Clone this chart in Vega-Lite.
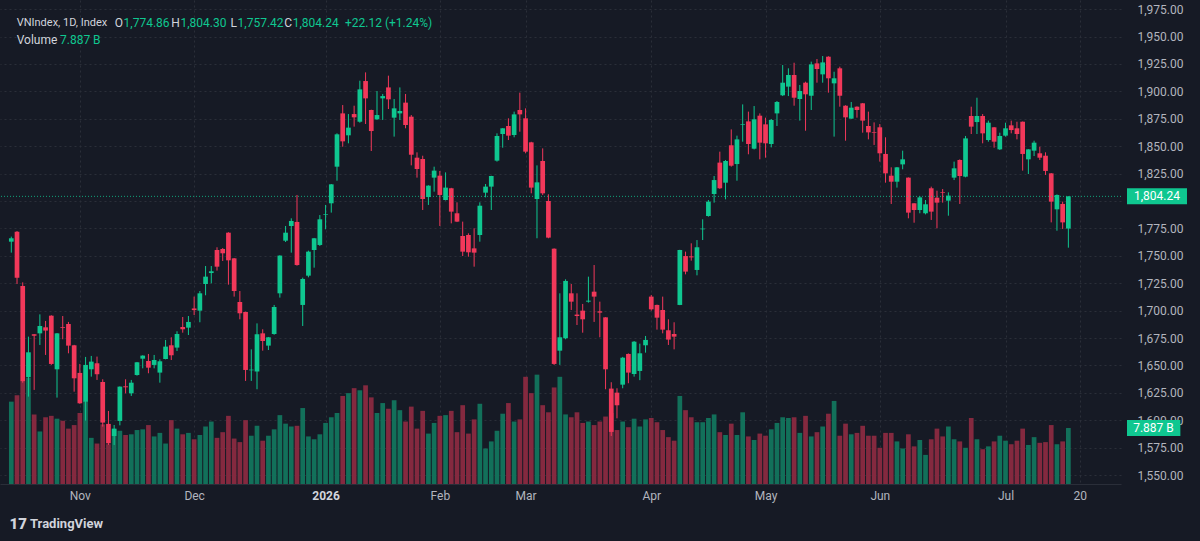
{
"$schema": "https://vega.github.io/schema/vega-lite/v6.json",
"width": 1121, "height": 484,
"autosize": {"type": "none"},
"padding": {"left": 0, "top": 0, "right": 79, "bottom": 57},
"background": "#161a25",
"config": {"view": {"stroke": null}, "font": "Roboto", "axis": {"labelFont": "Roboto"}},
"datasets": {"ohlc": [
{"i":0,"o":1762.9,"h":1767.5,"l":1752.9,"c":1766.0,"v":11.6},
{"i":1,"o":1772.0,"h":1772.6,"l":1724.3,"c":1730.1,"v":12.5},
{"i":2,"o":1722.5,"h":1725.8,"l":1634.3,"c":1635.3,"v":14.4},
{"i":3,"o":1639.5,"h":1676.3,"l":1621.6,"c":1662.0,"v":15.0},
{"i":4,"o":1678.4,"h":1678.6,"l":1627.7,"c":1677.2,"v":9.8},
{"i":5,"o":1679.3,"h":1696.6,"l":1668.7,"c":1686.0,"v":7.4},
{"i":6,"o":1684.8,"h":1690.6,"l":1659.6,"c":1681.8,"v":9.4},
{"i":7,"o":1695.4,"h":1695.8,"l":1650.5,"c":1651.4,"v":9.6},
{"i":8,"o":1646.5,"h":1679.6,"l":1620.7,"c":1679.3,"v":9.2},
{"i":9,"o":1685.1,"h":1695.1,"l":1673.9,"c":1684.5,"v":8.9},
{"i":10,"o":1687.8,"h":1689.7,"l":1661.1,"c":1668.1,"v":7.8},
{"i":11,"o":1668.4,"h":1668.8,"l":1626.1,"c":1638.3,"v":8.3},
{"i":12,"o":1643.2,"h":1651.4,"l":1615.0,"c":1615.5,"v":10.0},
{"i":13,"o":1617.0,"h":1657.8,"l":1599.7,"c":1650.5,"v":11.7},
{"i":14,"o":1646.5,"h":1658.7,"l":1639.8,"c":1653.5,"v":6.5},
{"i":15,"o":1652.0,"h":1658.1,"l":1636.8,"c":1642.0,"v":5.7},
{"i":16,"o":1634.9,"h":1637.4,"l":1594.2,"c":1597.9,"v":8.4},
{"i":17,"o":1596.7,"h":1608.5,"l":1577.5,"c":1579.0,"v":5.6},
{"i":18,"o":1585.7,"h":1595.7,"l":1577.5,"c":1592.4,"v":7.7},
{"i":19,"o":1599.4,"h":1630.9,"l":1595.4,"c":1630.7,"v":7.5},
{"i":20,"o":1631.0,"h":1637.4,"l":1624.6,"c":1630.1,"v":6.9},
{"i":21,"o":1624.6,"h":1636.8,"l":1622.2,"c":1634.3,"v":7.0},
{"i":22,"o":1641.3,"h":1653.2,"l":1640.7,"c":1652.9,"v":7.6},
{"i":23,"o":1656.2,"h":1659.3,"l":1647.4,"c":1659.0,"v":7.7},
{"i":24,"o":1654.1,"h":1660.5,"l":1642.9,"c":1648.0,"v":8.3},
{"i":25,"o":1650.5,"h":1659.6,"l":1647.4,"c":1655.0,"v":6.7},
{"i":26,"o":1643.5,"h":1655.6,"l":1634.3,"c":1653.8,"v":7.2},
{"i":27,"o":1655.9,"h":1673.3,"l":1655.6,"c":1667.2,"v":5.7},
{"i":28,"o":1668.4,"h":1675.7,"l":1655.0,"c":1659.3,"v":9.0},
{"i":29,"o":1666.3,"h":1681.2,"l":1663.2,"c":1678.7,"v":7.8},
{"i":30,"o":1685.1,"h":1694.2,"l":1679.9,"c":1683.0,"v":7.0},
{"i":31,"o":1684.5,"h":1695.1,"l":1677.8,"c":1689.7,"v":7.2},
{"i":32,"o":1702.0,"h":1712.8,"l":1696.0,"c":1700.5,"v":6.3},
{"i":33,"o":1700.0,"h":1717.9,"l":1689.4,"c":1715.8,"v":6.9},
{"i":34,"o":1724.3,"h":1740.7,"l":1714.0,"c":1731.0,"v":8.1},
{"i":35,"o":1734.3,"h":1740.7,"l":1724.9,"c":1735.9,"v":8.8},
{"i":36,"o":1755.3,"h":1757.8,"l":1736.5,"c":1740.1,"v":6.5},
{"i":37,"o":1756.2,"h":1757.1,"l":1745.3,"c":1752.3,"v":7.3},
{"i":38,"o":1771.1,"h":1771.5,"l":1723.7,"c":1745.9,"v":9.6},
{"i":39,"o":1747.7,"h":1748.0,"l":1712.8,"c":1717.9,"v":6.4},
{"i":40,"o":1707.9,"h":1717.9,"l":1692.1,"c":1697.6,"v":5.9},
{"i":41,"o":1698.8,"h":1699.0,"l":1635.9,"c":1645.9,"v":9.0},
{"i":42,"o":1645.6,"h":1664.7,"l":1635.9,"c":1646.2,"v":6.8},
{"i":43,"o":1644.4,"h":1688.4,"l":1628.3,"c":1678.4,"v":8.2},
{"i":44,"o":1679.3,"h":1683.0,"l":1663.5,"c":1672.3,"v":6.1},
{"i":45,"o":1668.1,"h":1676.0,"l":1664.1,"c":1675.7,"v":6.8},
{"i":46,"o":1678.7,"h":1705.2,"l":1678.0,"c":1703.3,"v":7.7},
{"i":47,"o":1715.8,"h":1750.5,"l":1711.9,"c":1750.2,"v":9.7},
{"i":48,"o":1763.8,"h":1777.2,"l":1762.6,"c":1771.1,"v":8.5},
{"i":49,"o":1777.2,"h":1784.2,"l":1752.9,"c":1781.8,"v":8.1},
{"i":50,"o":1780.9,"h":1805.5,"l":1741.0,"c":1741.6,"v":8.2},
{"i":51,"o":1705.2,"h":1730.1,"l":1686.0,"c":1728.9,"v":10.7},
{"i":52,"o":1731.9,"h":1754.7,"l":1730.4,"c":1753.8,"v":6.7},
{"i":53,"o":1755.3,"h":1766.3,"l":1739.2,"c":1766.0,"v":6.3},
{"i":54,"o":1759.9,"h":1787.2,"l":1759.0,"c":1783.3,"v":7.0},
{"i":55,"o":1787.5,"h":1796.4,"l":1774.2,"c":1788.1,"v":8.6},
{"i":56,"o":1797.9,"h":1815.5,"l":1789.4,"c":1815.2,"v":9.4},
{"i":57,"o":1831.3,"h":1861.7,"l":1818.5,"c":1860.8,"v":10.0},
{"i":58,"o":1879.9,"h":1887.5,"l":1849.5,"c":1854.4,"v":12.4},
{"i":59,"o":1859.9,"h":1879.3,"l":1852.6,"c":1866.9,"v":12.8},
{"i":60,"o":1879.3,"h":1886.9,"l":1867.8,"c":1876.3,"v":13.5},
{"i":61,"o":1872.3,"h":1909.7,"l":1871.4,"c":1901.8,"v":13.2},
{"i":62,"o":1909.4,"h":1917.3,"l":1870.2,"c":1893.6,"v":13.9},
{"i":63,"o":1883.0,"h":1883.3,"l":1845.6,"c":1863.8,"v":12.2},
{"i":64,"o":1874.5,"h":1900.3,"l":1873.9,"c":1878.4,"v":10.0},
{"i":65,"o":1893.6,"h":1897.6,"l":1873.9,"c":1895.7,"v":11.4},
{"i":66,"o":1903.6,"h":1914.3,"l":1883.9,"c":1892.7,"v":10.6},
{"i":67,"o":1876.0,"h":1893.0,"l":1858.7,"c":1884.5,"v":11.8},
{"i":68,"o":1879.9,"h":1903.6,"l":1873.9,"c":1882.1,"v":10.4},
{"i":69,"o":1889.7,"h":1897.6,"l":1866.3,"c":1869.3,"v":8.8},
{"i":70,"o":1876.9,"h":1878.4,"l":1832.5,"c":1842.2,"v":10.9},
{"i":71,"o":1839.5,"h":1844.4,"l":1821.3,"c":1829.2,"v":7.8},
{"i":72,"o":1838.3,"h":1841.3,"l":1791.8,"c":1801.8,"v":10.3},
{"i":73,"o":1803.6,"h":1814.3,"l":1796.4,"c":1814.0,"v":7.1},
{"i":74,"o":1821.3,"h":1831.3,"l":1808.5,"c":1827.7,"v":8.6},
{"i":75,"o":1823.1,"h":1827.4,"l":1777.2,"c":1805.5,"v":9.6},
{"i":76,"o":1800.9,"h":1826.1,"l":1800.5,"c":1812.2,"v":9.7},
{"i":77,"o":1811.6,"h":1812.0,"l":1779.6,"c":1790.3,"v":10.3},
{"i":78,"o":1788.8,"h":1798.8,"l":1780.8,"c":1781.2,"v":7.3},
{"i":79,"o":1768.1,"h":1781.2,"l":1749.8,"c":1753.8,"v":11.1},
{"i":80,"o":1769.0,"h":1770.5,"l":1749.2,"c":1753.2,"v":7.1},
{"i":81,"o":1756.8,"h":1775.1,"l":1740.1,"c":1752.9,"v":9.1},
{"i":82,"o":1769.0,"h":1798.8,"l":1762.9,"c":1795.7,"v":11.3},
{"i":83,"o":1807.6,"h":1815.5,"l":1803.3,"c":1813.1,"v":5.0},
{"i":84,"o":1813.1,"h":1823.0,"l":1791.8,"c":1822.8,"v":6.0},
{"i":85,"o":1836.8,"h":1861.7,"l":1835.9,"c":1859.3,"v":7.5},
{"i":86,"o":1861.1,"h":1866.5,"l":1848.6,"c":1866.3,"v":9.9},
{"i":87,"o":1868.4,"h":1875.4,"l":1855.6,"c":1859.6,"v":11.4},
{"i":88,"o":1860.2,"h":1881.5,"l":1858.1,"c":1879.0,"v":8.8},
{"i":89,"o":1883.0,"h":1898.8,"l":1863.2,"c":1879.0,"v":9.1},
{"i":90,"o":1875.4,"h":1884.5,"l":1843.5,"c":1845.0,"v":15.1},
{"i":91,"o":1853.5,"h":1854.0,"l":1807.0,"c":1812.2,"v":12.8},
{"i":92,"o":1801.8,"h":1832.5,"l":1766.0,"c":1817.0,"v":15.4},
{"i":93,"o":1836.5,"h":1848.0,"l":1805.5,"c":1807.0,"v":11.1},
{"i":94,"o":1800.0,"h":1806.1,"l":1766.0,"c":1766.6,"v":10.1},
{"i":95,"o":1756.5,"h":1756.8,"l":1650.5,"c":1651.4,"v":13.6},
{"i":96,"o":1663.5,"h":1715.8,"l":1650.5,"c":1675.7,"v":15.1},
{"i":97,"o":1674.8,"h":1728.6,"l":1673.9,"c":1727.1,"v":9.8},
{"i":98,"o":1715.8,"h":1724.3,"l":1700.6,"c":1708.2,"v":9.4},
{"i":99,"o":1696.4,"h":1715.8,"l":1686.9,"c":1695.1,"v":10.1},
{"i":100,"o":1700.0,"h":1706.1,"l":1679.9,"c":1692.1,"v":8.6},
{"i":101,"o":1708.2,"h":1731.0,"l":1707.3,"c":1709.1,"v":8.8},
{"i":102,"o":1717.3,"h":1741.6,"l":1689.7,"c":1712.8,"v":8.3},
{"i":103,"o":1699.4,"h":1708.2,"l":1675.7,"c":1698.2,"v":8.8},
{"i":104,"o":1693.9,"h":1694.0,"l":1628.3,"c":1646.5,"v":9.5},
{"i":105,"o":1628.9,"h":1634.7,"l":1585.7,"c":1589.4,"v":10.0},
{"i":106,"o":1625.2,"h":1629.2,"l":1601.8,"c":1613.7,"v":7.6},
{"i":107,"o":1632.5,"h":1657.8,"l":1629.2,"c":1657.1,"v":8.8},
{"i":108,"o":1660.5,"h":1661.0,"l":1633.8,"c":1643.5,"v":8.0},
{"i":109,"o":1642.2,"h":1672.3,"l":1639.8,"c":1671.7,"v":9.2},
{"i":110,"o":1645.0,"h":1669.9,"l":1636.6,"c":1661.1,"v":8.1},
{"i":111,"o":1668.4,"h":1676.9,"l":1661.7,"c":1673.3,"v":9.1},
{"i":112,"o":1712.8,"h":1714.3,"l":1700.0,"c":1701.2,"v":9.3},
{"i":113,"o":1705.2,"h":1705.5,"l":1682.7,"c":1693.6,"v":8.7},
{"i":114,"o":1700.6,"h":1712.8,"l":1679.3,"c":1682.7,"v":7.6},
{"i":115,"o":1682.1,"h":1692.1,"l":1668.7,"c":1673.6,"v":6.6},
{"i":116,"o":1678.7,"h":1689.4,"l":1664.7,"c":1676.3,"v":6.1},
{"i":117,"o":1705.2,"h":1755.5,"l":1705.0,"c":1755.3,"v":12.4},
{"i":118,"o":1749.8,"h":1753.8,"l":1733.1,"c":1735.6,"v":10.4},
{"i":119,"o":1749.5,"h":1761.4,"l":1745.6,"c":1748.6,"v":9.4},
{"i":120,"o":1737.1,"h":1764.4,"l":1732.2,"c":1757.8,"v":8.7},
{"i":121,"o":1774.2,"h":1783.3,"l":1764.4,"c":1774.8,"v":8.7},
{"i":122,"o":1786.3,"h":1800.9,"l":1785.7,"c":1799.4,"v":9.3},
{"i":123,"o":1806.4,"h":1822.8,"l":1798.5,"c":1819.1,"v":9.8},
{"i":124,"o":1835.0,"h":1845.0,"l":1811.0,"c":1811.6,"v":7.3},
{"i":125,"o":1816.7,"h":1837.4,"l":1801.5,"c":1836.5,"v":6.9},
{"i":126,"o":1850.8,"h":1865.3,"l":1831.3,"c":1832.2,"v":8.5},
{"i":127,"o":1833.7,"h":1859.6,"l":1818.5,"c":1856.2,"v":6.9},
{"i":128,"o":1869.6,"h":1888.1,"l":1854.1,"c":1870.2,"v":10.1},
{"i":129,"o":1872.6,"h":1881.5,"l":1842.6,"c":1852.0,"v":6.7},
{"i":130,"o":1847.7,"h":1886.6,"l":1847.0,"c":1874.5,"v":6.2},
{"i":131,"o":1877.8,"h":1879.9,"l":1838.0,"c":1853.2,"v":7.1},
{"i":132,"o":1869.9,"h":1876.0,"l":1839.5,"c":1852.6,"v":6.8},
{"i":133,"o":1852.0,"h":1874.8,"l":1848.9,"c":1873.9,"v":7.7},
{"i":134,"o":1879.9,"h":1891.2,"l":1868.4,"c":1890.3,"v":8.6},
{"i":135,"o":1896.4,"h":1924.0,"l":1895.7,"c":1907.9,"v":9.4},
{"i":136,"o":1904.3,"h":1921.0,"l":1895.7,"c":1914.9,"v":9.3},
{"i":137,"o":1914.9,"h":1926.1,"l":1886.9,"c":1894.2,"v":9.4},
{"i":138,"o":1893.0,"h":1905.8,"l":1873.3,"c":1900.3,"v":7.2},
{"i":139,"o":1907.9,"h":1908.8,"l":1864.1,"c":1897.3,"v":9.6},
{"i":140,"o":1896.0,"h":1927.1,"l":1883.0,"c":1924.6,"v":6.7},
{"i":141,"o":1925.5,"h":1929.5,"l":1907.9,"c":1920.4,"v":7.3},
{"i":142,"o":1915.5,"h":1932.2,"l":1907.9,"c":1926.4,"v":8.1},
{"i":143,"o":1931.6,"h":1932.0,"l":1898.8,"c":1911.9,"v":9.9},
{"i":144,"o":1907.3,"h":1917.9,"l":1858.7,"c":1911.9,"v":11.7},
{"i":145,"o":1921.0,"h":1922.5,"l":1886.0,"c":1896.0,"v":6.8},
{"i":146,"o":1886.9,"h":1887.3,"l":1855.0,"c":1876.3,"v":8.5},
{"i":147,"o":1875.1,"h":1890.3,"l":1875.0,"c":1885.1,"v":7.0},
{"i":148,"o":1886.0,"h":1886.3,"l":1876.0,"c":1883.0,"v":7.2},
{"i":149,"o":1889.1,"h":1889.4,"l":1862.3,"c":1873.3,"v":8.2},
{"i":150,"o":1868.4,"h":1881.5,"l":1856.2,"c":1862.6,"v":6.8},
{"i":151,"o":1862.9,"h":1871.7,"l":1851.1,"c":1862.3,"v":6.8},
{"i":152,"o":1867.2,"h":1870.2,"l":1835.9,"c":1843.5,"v":5.1},
{"i":153,"o":1842.9,"h":1858.1,"l":1816.7,"c":1825.2,"v":7.2},
{"i":154,"o":1823.1,"h":1830.7,"l":1797.3,"c":1817.6,"v":7.2},
{"i":155,"o":1817.6,"h":1831.0,"l":1812.2,"c":1830.7,"v":6.0},
{"i":156,"o":1833.4,"h":1845.9,"l":1828.9,"c":1838.0,"v":5.0},
{"i":157,"o":1821.3,"h":1821.5,"l":1784.2,"c":1789.4,"v":7.0},
{"i":158,"o":1797.9,"h":1798.0,"l":1780.2,"c":1791.8,"v":5.3},
{"i":159,"o":1791.8,"h":1804.6,"l":1788.8,"c":1803.3,"v":6.2},
{"i":160,"o":1788.8,"h":1800.9,"l":1787.8,"c":1797.0,"v":4.1},
{"i":161,"o":1811.6,"h":1813.1,"l":1782.7,"c":1790.3,"v":6.3},
{"i":162,"o":1803.0,"h":1809.4,"l":1775.1,"c":1798.5,"v":7.8},
{"i":163,"o":1807.9,"h":1810.9,"l":1798.5,"c":1807.3,"v":6.7},
{"i":164,"o":1800.3,"h":1807.9,"l":1786.6,"c":1804.9,"v":8.1},
{"i":165,"o":1821.3,"h":1835.9,"l":1819.1,"c":1829.8,"v":6.3},
{"i":166,"o":1837.4,"h":1838.0,"l":1797.3,"c":1822.8,"v":6.0},
{"i":167,"o":1822.2,"h":1859.3,"l":1821.6,"c":1857.1,"v":5.1},
{"i":168,"o":1877.5,"h":1886.0,"l":1861.1,"c":1867.8,"v":9.3},
{"i":169,"o":1872.0,"h":1894.2,"l":1861.1,"c":1877.5,"v":6.3},
{"i":170,"o":1877.5,"h":1879.3,"l":1852.6,"c":1861.7,"v":4.9},
{"i":171,"o":1855.6,"h":1873.3,"l":1854.1,"c":1871.4,"v":5.3},
{"i":172,"o":1867.2,"h":1867.5,"l":1848.6,"c":1854.1,"v":6.0},
{"i":173,"o":1847.1,"h":1862.3,"l":1846.5,"c":1859.3,"v":6.8},
{"i":174,"o":1859.6,"h":1871.4,"l":1858.7,"c":1866.3,"v":6.1},
{"i":175,"o":1869.0,"h":1873.3,"l":1861.7,"c":1864.7,"v":5.6},
{"i":176,"o":1866.3,"h":1872.3,"l":1856.2,"c":1861.1,"v":6.1},
{"i":177,"o":1872.3,"h":1872.5,"l":1827.7,"c":1842.9,"v":7.8},
{"i":178,"o":1838.0,"h":1847.3,"l":1824.6,"c":1847.1,"v":5.5},
{"i":179,"o":1845.9,"h":1855.0,"l":1841.0,"c":1853.2,"v":6.6},
{"i":180,"o":1843.5,"h":1849.5,"l":1837.4,"c":1839.5,"v":5.8},
{"i":181,"o":1841.3,"h":1844.4,"l":1823.7,"c":1827.4,"v":5.9},
{"i":182,"o":1825.2,"h":1825.5,"l":1780.5,"c":1799.4,"v":8.3},
{"i":183,"o":1792.4,"h":1806.0,"l":1772.9,"c":1805.5,"v":5.6},
{"i":184,"o":1797.3,"h":1799.4,"l":1774.5,"c":1780.5,"v":6.0},
{"i":185,"o":1774.86,"h":1804.30,"l":1757.42,"c":1804.24,"v":7.887}
]},
"layer": [
 {"layer": [
  {"data": {"name": "ohlc"},
   "mark": {"type": "bar", "width": 4.7},
   "encoding": {
    "x": {"field": "i", "type": "quantitative", "scale": {"domain": [-1.978, 194.21], "nice": false, "zero": false, "padding": 0},
      "axis": {"values": [12, 32, 55, 75, 90, 112, 132, 152, 174, 187], "title": null,
       "labelExpr": "datum.value == 12 ? 'Nov' : datum.value == 32 ? 'Dec' : datum.value == 55 ? '2026' : datum.value == 75 ? 'Feb' : datum.value == 90 ? 'Mar' : datum.value == 112 ? 'Apr' : datum.value == 132 ? 'May' : datum.value == 152 ? 'Jun' : datum.value == 174 ? 'Jul' : '20'",
       "labelFontWeight": {"condition": {"test": "datum.value == 55", "value": "bold"}, "value": "normal"},
       "labelColor": {"condition": {"test": "datum.value == 55", "value": "#d1d4dc"}, "value": "#b2b5be"},
       "labelFontSize": 12, "tickSize": 0, "labelPadding": 6, "grid": true, "gridColor": "#2a2e39", "gridDash": [2, 3],
       "domainColor": "#2a2e39", "labelFlush": false, "labelOverlap": false}},
    "y": {"field": "v", "type": "quantitative", "scale": {"domain": [0, 68.17], "nice": false, "padding": 0}, "axis": null},
    "color": {"condition": {"test": "datum.c >= datum.o", "value": "#12705a"}, "value": "#84293f"}
   }}
 ]},
 {"layer": [
  {"data": {"name": "ohlc"},
   "mark": {"type": "rule", "strokeWidth": 1},
   "encoding": {
    "x": {"field": "i", "type": "quantitative", "scale": {"domain": [-1.978, 194.21], "nice": false, "zero": false, "padding": 0}},
    "y": {"field": "l", "type": "quantitative", "scale": {"domain": [1541.9, 1983.31], "nice": false, "zero": false, "padding": 0},
      "axis": {"orient": "right", "title": null, "values": [1550, 1575, 1600, 1625, 1650, 1675, 1700, 1725, 1750, 1775, 1800, 1825, 1850, 1875, 1900, 1925, 1950, 1975],
       "labelExpr": "datum.value == 1800 ? '' : format(datum.value, ',.2f')", "tickSize": 0, "labelPadding": 16, "labelColor": "#b2b5be", "labelFontSize": 12, "domain": false,
       "grid": true, "gridColor": "#2a2e39", "gridDash": [2, 3], "labelFlush": false, "labelOverlap": false}},
    "y2": {"field": "h"},
    "color": {"condition": {"test": "datum.c >= datum.o", "value": "#0fc790"}, "value": "#f2385a"}
   }},
  {"data": {"name": "ohlc"},
   "mark": {"type": "bar", "width": 4.7},
   "encoding": {
    "x": {"field": "i", "type": "quantitative", "scale": {"domain": [-1.978, 194.21], "nice": false, "zero": false, "padding": 0}},
    "y": {"field": "o", "type": "quantitative", "scale": {"domain": [1541.9, 1983.31], "nice": false, "zero": false, "padding": 0},
      "axis": {"orient": "right", "title": null, "values": [1550, 1575, 1600, 1625, 1650, 1675, 1700, 1725, 1750, 1775, 1800, 1825, 1850, 1875, 1900, 1925, 1950, 1975],
       "labelExpr": "datum.value == 1800 ? '' : format(datum.value, ',.2f')", "tickSize": 0, "labelPadding": 16, "labelColor": "#b2b5be", "labelFontSize": 12, "domain": false,
       "grid": true, "gridColor": "#2a2e39", "gridDash": [2, 3], "labelFlush": false, "labelOverlap": false}},
    "y2": {"field": "c"},
    "color": {"condition": {"test": "datum.c >= datum.o", "value": "#0fc790"}, "value": "#f2385a"}
   }}
 ]},
 {"layer": [
  {"data": {"values": [{}]},
   "mark": {"type": "rule", "color": "#0fc790", "strokeDash": [1, 2], "strokeWidth": 1, "opacity": 0.8},
   "encoding": {"y": {"datum": 1804.24, "type": "quantitative", "scale": {"domain": [1541.9, 1983.31], "nice": false, "zero": false, "padding": 0}, "axis": null}}},
  {"data": {"values": [{}]},
   "mark": {"type": "rect", "color": "#0fc790"},
   "encoding": {
    "x": {"datum": 195.26, "type": "quantitative"}, "x2": {"datum": 205.76},
    "y": {"datum": 1796.94, "type": "quantitative", "scale": {"domain": [1541.9, 1983.31], "nice": false, "zero": false, "padding": 0}, "axis": null}, "y2": {"datum": 1811.54}
   }},
  {"data": {"values": [{}]},
   "mark": {"type": "text", "text": "1,804.24", "color": "#ffffff", "fontSize": 12, "align": "center", "baseline": "middle"},
   "encoding": {"x": {"datum": 200.5, "type": "quantitative"}, "y": {"datum": 1804.24, "type": "quantitative", "axis": null}}},
  {"data": {"values": [{}]},
   "mark": {"type": "rect", "color": "#0fc790"},
   "encoding": {
    "x": {"datum": 195.26, "type": "quantitative"}, "x2": {"datum": 204.6},
    "y": {"datum": 1585.7, "type": "quantitative", "axis": null}, "y2": {"datum": 1600.3}
   }},
  {"data": {"values": [{}]},
   "mark": {"type": "text", "text": "7.887 B", "color": "#ffffff", "fontSize": 12, "align": "center", "baseline": "middle"},
   "encoding": {"x": {"datum": 199.9, "type": "quantitative"}, "y": {"datum": 1593.0, "type": "quantitative", "axis": null}}},
  {"data": {"values": [{}]},
   "mark": {"type": "text", "text": "VNIndex, 1D, Index", "color": "#d1d4dc", "fontSize": 11, "align": "left", "baseline": "middle"},
   "encoding": {"x": {"datum": 0.945, "type": "quantitative"}, "y": {"datum": 1961.9, "type": "quantitative", "axis": null}}},
  {"data": {"values": [{}]},
   "mark": {"type": "text", "text": "O", "color": "#d1d4dc", "fontSize": 12, "align": "right", "baseline": "middle"},
   "encoding": {"x": {"datum": 19.55, "type": "quantitative"}, "y": {"datum": 1961.9, "type": "quantitative", "axis": null}}},
  {"data": {"values": [{}]},
   "mark": {"type": "text", "text": "1,774.86", "color": "#0fc790", "fontSize": 12, "align": "left", "baseline": "middle"},
   "encoding": {"x": {"datum": 19.65, "type": "quantitative"}, "y": {"datum": 1961.9, "type": "quantitative", "axis": null}}},
  {"data": {"values": [{}]},
   "mark": {"type": "text", "text": "H", "color": "#d1d4dc", "fontSize": 12, "align": "right", "baseline": "middle"},
   "encoding": {"x": {"datum": 29.5, "type": "quantitative"}, "y": {"datum": 1961.9, "type": "quantitative", "axis": null}}},
  {"data": {"values": [{}]},
   "mark": {"type": "text", "text": "1,804.30", "color": "#0fc790", "fontSize": 12, "align": "left", "baseline": "middle"},
   "encoding": {"x": {"datum": 29.6, "type": "quantitative"}, "y": {"datum": 1961.9, "type": "quantitative", "axis": null}}},
  {"data": {"values": [{}]},
   "mark": {"type": "text", "text": "L", "color": "#d1d4dc", "fontSize": 12, "align": "right", "baseline": "middle"},
   "encoding": {"x": {"datum": 39.5, "type": "quantitative"}, "y": {"datum": 1961.9, "type": "quantitative", "axis": null}}},
  {"data": {"values": [{}]},
   "mark": {"type": "text", "text": "1,757.42", "color": "#0fc790", "fontSize": 12, "align": "left", "baseline": "middle"},
   "encoding": {"x": {"datum": 39.6, "type": "quantitative"}, "y": {"datum": 1961.9, "type": "quantitative", "axis": null}}},
  {"data": {"values": [{}]},
   "mark": {"type": "text", "text": "C", "color": "#d1d4dc", "fontSize": 12, "align": "right", "baseline": "middle"},
   "encoding": {"x": {"datum": 49.15, "type": "quantitative"}, "y": {"datum": 1961.9, "type": "quantitative", "axis": null}}},
  {"data": {"values": [{}]},
   "mark": {"type": "text", "text": "1,804.24", "color": "#0fc790", "fontSize": 12, "align": "left", "baseline": "middle"},
   "encoding": {"x": {"datum": 49.25, "type": "quantitative"}, "y": {"datum": 1961.9, "type": "quantitative", "axis": null}}},
  {"data": {"values": [{}]},
   "mark": {"type": "text", "text": "+22.12 (+1.24%)", "color": "#0fc790", "fontSize": 12, "align": "left", "baseline": "middle"},
   "encoding": {"x": {"datum": 58.4, "type": "quantitative"}, "y": {"datum": 1961.9, "type": "quantitative", "axis": null}}},
  {"data": {"values": [{}]},
   "mark": {"type": "text", "text": "Volume", "color": "#d1d4dc", "fontSize": 12, "align": "left", "baseline": "middle"},
   "encoding": {"x": {"datum": 0.945, "type": "quantitative"}, "y": {"datum": 1947.2, "type": "quantitative", "axis": null}}},
  {"data": {"values": [{}]},
   "mark": {"type": "text", "text": "7.887 B", "color": "#0fc790", "fontSize": 12, "align": "left", "baseline": "middle"},
   "encoding": {"x": {"datum": 8.52, "type": "quantitative"}, "y": {"datum": 1947.2, "type": "quantitative", "axis": null}}},
  {"data": {"values": [{}]},
   "mark": {"type": "text", "text": "17", "color": "#d1d4dc", "fontSize": 15, "fontWeight": 900, "align": "left", "baseline": "middle"},
   "encoding": {"x": {"datum": -0.3, "type": "quantitative"}, "y": {"datum": 1505.4, "type": "quantitative", "axis": null}}},
  {"data": {"values": [{}]},
   "mark": {"type": "text", "text": "TradingView", "color": "#d1d4dc", "fontSize": 13, "fontWeight": "bold", "align": "left", "baseline": "middle"},
   "encoding": {"x": {"datum": 3.27, "type": "quantitative"}, "y": {"datum": 1505.4, "type": "quantitative", "axis": null}}}
 ]}
],
"resolve": {"scale": {"y": "independent"}}
}
